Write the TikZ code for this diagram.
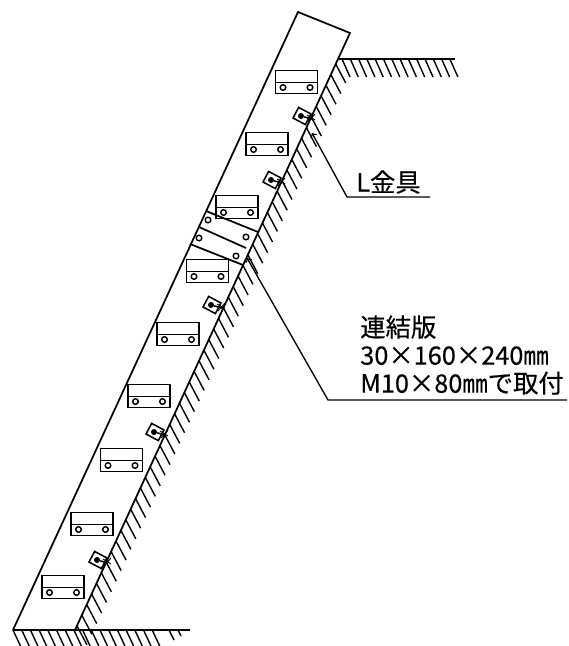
\documentclass[tikz,border=0pt]{standalone}
\usepackage{fontspec}
\newfontfamily\cjk[FakeBold=0.35]{Noto Sans CJK JP}
\tikzset{
    %Define standard arrow tip
    >=to,
    %Define style for the wall outline and ground
    wal/.style={
           line width=1.3pt,
           line join=miter},
    %Define style for hatching
    hat/.style={
           line width=1.05pt},
    %Panels on the wall
    pnl/.style={
           rectangle,
           draw=black, line width=1.15pt,
           minimum height=17.5pt,
           minimum width=31.5pt,
           inner sep=0pt},
    %L brackets
    brk/.style={
           rectangle,
           draw=black, line width=1.15pt,
           minimum height=9pt,
           minimum width=10.5pt,
           inner sep=0pt,
           rotate=-28},
    hol/.style={
           circle,
           draw=black, line width=1.05pt,
           minimum size=4.2pt,
           inner sep=0pt},
    % Define leader style
    ldr/.style={
           ->,
           line width=1pt},
    % Labels
    lab/.style={
           font=\cjk\fontsize{19pt}{21pt}\selectfont,
           align=left,
           anchor=south west,
           inner sep=0pt}
}
\begin{document}
\begin{tikzpicture}[x=0.75pt,y=-0.75pt]
\useasboundingbox (0,0) rectangle (568,646);

%wall
\coordinate (TL) at (298,12);
\coordinate (TR) at (350,33);
\coordinate (BL) at (13,630);
\coordinate (BR) at (75,630);
\draw[wal] (BL) -- (TL) -- (TR) -- (BR);

%ground, top and bottom
\coordinate (GA) at (338,59);
\coordinate (GB) at (455,59);
\coordinate (GC) at (190,630);
\draw[wal] (GA) -- (GB);
\draw[wal] (BL) -- (GC);
\foreach \x in {342,350.3,...,456}
  \draw[hat] (\x,59) -- ++(8,18);
\foreach \x in {13,21.7,...,160}
  \draw[hat] (\x,630) -- ++(7.5,16);
\draw[hat] (169,630) -- ++(5,10);
\draw[hat] (178,630) -- ++(3,6);

%hatching along the slope
\foreach \y in {64,74.6,...,626}{
  \pgfmathsetmacro{\xs}{350-0.4606*(\y-33)}
  \draw[hat] (\xs,\y) -- ++(10,19);
}

%panels
\foreach \i/\x/\y in {1/296.5/82,2/267/144,3/237/207,4/207.5/271,5/178/334,6/149/396,7/121.5/460,8/92/524,9/63/587}{
  \node[pnl] (P\i) at (\x,\y) {};
  \draw[line width=1pt] ([yshift=-0.5pt]P\i.west) -- ([yshift=-0.5pt]P\i.east);
  \node[hol] (P\i a) at (\x-13.5,\y+5.5) {};
  \node[hol] (P\i b) at (\x+13.5,\y+5.5) {};
}

%L brackets
\foreach \i/\x/\y in {1/302/116,2/272/180,3/212/305,4/155/432,5/98/560}{
  \node[brk] (K\i) at (\x,\y) {};
  \node[circle,fill=black,minimum size=4.5pt,inner sep=0pt] (H\i) at (\x-1,\y) {};
  \draw[line width=1.2pt] (H\i) -- ++(11,3);
  \draw[line width=0.7pt] (\x+6,\y+6) -- ++(7,-8);
  \draw[line width=0.7pt] (\x+5,\y-1) -- ++(8,5);
}

%connecting plate
\coordinate (PA) at (206,211);
\coordinate (PB) at (258,232);
\coordinate (PC) at (199,227);
\coordinate (PD) at (246,248);
\coordinate (PE) at (190,244);
\coordinate (PF) at (243,265);
\draw[wal] (PA) -- (PB);
\draw[wal] (PC) -- (PD);
\draw[wal] (PE) -- (PF);
\node[hol] (Q1) at (208,220) {};
\node[hol] (Q2) at (199,238) {};
\node[hol] (Q3) at (246,237) {};
\node[hol] (Q4) at (236,256) {};

%labels
\node[lab] (Lkin) at (356,194) {L金具};
\node[lab] (Lren) at (360,395) {連結版\\30×160×240㎜\\M10×80㎜で取付};

%leaders
\coordinate (LA) at (430,197);
\coordinate (LB) at (347,197);
\coordinate (LC) at (312,133);
\draw[ldr] (LA) -- (LB) -- (LC);
\coordinate (RA) at (567,400);
\coordinate (RB) at (328,400);
\coordinate (RC) at (247,258);
\draw[ldr] (RA) -- (RB) -- (RC);

\end{tikzpicture}
\end{document}
